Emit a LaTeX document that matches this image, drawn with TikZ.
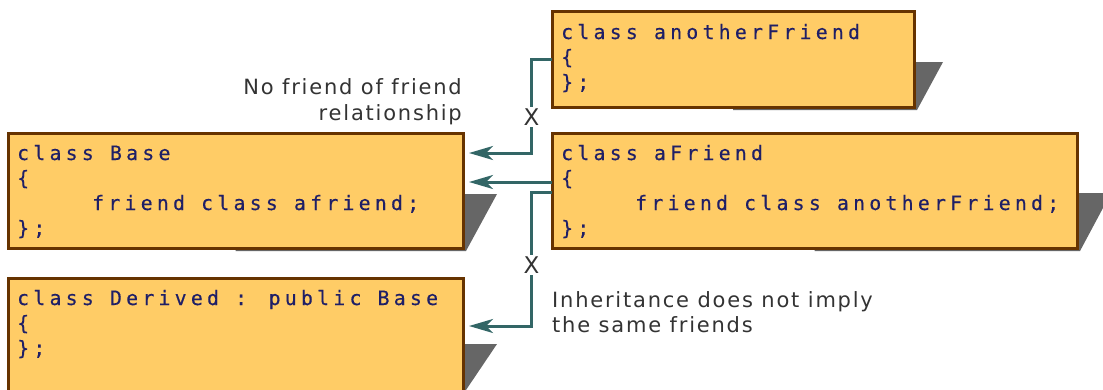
\documentclass[tikz,border=0pt]{standalone}
\usepackage{fontspec}
\usetikzlibrary{calc,arrows.meta,backgrounds}
\newfontfamily\codefont[LetterSpace=21.5,FakeBold=0.4]{DejaVu Sans Mono}
\newfontfamily\notefont[LetterSpace=8.5]{DejaVu Sans}
\newfontfamily\markfont{DejaVu Sans}
\definecolor{boxfill}{HTML}{FFCC66}
\definecolor{boxedge}{HTML}{663300}
\definecolor{shadowgray}{HTML}{666666}
\definecolor{linkteal}{HTML}{336666}
\definecolor{codeblue}{HTML}{1F1F66}
\definecolor{notegray}{HTML}{333333}
\begin{document}
\begin{tikzpicture}[x=1pt,y=-1pt,
  classbox/.style={draw=boxedge, fill=boxfill, line width=3pt, rectangle,
    inner sep=0pt, outer sep=0pt, anchor=north west},
  codetext/.style={anchor=base west, inner sep=0pt, text=codeblue,
    font=\fontsize{19.8pt}{25pt}\codefont},
  notetext/.style={inner sep=0pt, text=notegray,
    font=\fontsize{21pt}{26pt}\notefont},
  xmark/.style={inner sep=1.5pt, text=notegray,
    font=\fontsize{23pt}{26pt}\markfont},
  link/.style={draw=linkteal, line width=3pt},
  linkarrow/.style={link, -{Stealth[length=24pt,width=14pt,inset=7pt]}},
  shade/.style={fill=shadowgray}
]
\path[use as bounding box] (0,0) rectangle (1103,389);
\clip (0,0) rectangle (1103,389);

% class boxes
\node[classbox, minimum width=362pt, minimum height=96pt]  (another) at (552,11) {};
\node[classbox, minimum width=455pt, minimum height=115pt] (base)    at (8,133) {};
\node[classbox, minimum width=525pt, minimum height=115pt] (afr)     at (552,133) {};
\node[classbox, minimum width=455pt, minimum height=130pt] (der)     at (8,278) {};

% drop shadows behind the boxes
\begin{scope}[on background layer]
  \fill[shade] ($(another.south)+(0,3)$) -- ($(another.south east)+(3,3)$)
     -- ($(another.north east)+(29,51)$) -- ($(another.north)+(0,51)$) -- cycle;
  \fill[shade] ($(base.south)+(0,3)$) -- ($(base.south east)+(3,3)$)
     -- ($(base.north east)+(34,61)$) -- ($(base.north)+(0,61)$) -- cycle;
  \fill[shade] ($(afr.south)+(0,3)$) -- ($(afr.south east)+(3,3)$)
     -- ($(afr.north east)+(34,60)$) -- ($(afr.north)+(0,60)$) -- cycle;
  \fill[shade] ($(der.north)+(0,112)$) -- ($(der.north east)+(3,112)$)
     -- ($(der.north east)+(34,66)$) -- ($(der.north)+(0,66)$) -- cycle;
\end{scope}

% code inside the boxes
\node[codetext] (another-1) at ($(another.north west)+(9,28)$) {class anotherFriend};
\node[codetext] (another-2) at ($(another.north west)+(9,53)$) {\{};
\node[codetext] (another-3) at ($(another.north west)+(9,78)$) {\};};

\node[codetext] (base-1) at ($(base.north west)+(9,27)$) {class Base};
\node[codetext] (base-2) at ($(base.north west)+(9,52)$) {\{};
\node[codetext] (base-3) at ($(base.north west)+(84,77)$) {friend class afriend;};
\node[codetext] (base-4) at ($(base.north west)+(9,102)$) {\};};

\node[codetext] (afr-1) at ($(afr.north west)+(9,27)$) {class aFriend};
\node[codetext] (afr-2) at ($(afr.north west)+(9,52)$) {\{};
\node[codetext] (afr-3) at ($(afr.north west)+(83,77)$) {friend class anotherFriend;};
\node[codetext] (afr-4) at ($(afr.north west)+(9,102)$) {\};};

\node[codetext] (der-1) at ($(der.north west)+(9,27)$) {class Derived : public Base};
\node[codetext] (der-2) at ($(der.north west)+(9,52)$) {\{};
\node[codetext] (der-3) at ($(der.north west)+(9,77)$) {\};};

% notes
\node[notetext, anchor=base east] (nf-1) at (462,94)  {No friend of friend};
\node[notetext, anchor=base east] (nf-2) at (462,120) {relationship};
\node[notetext, anchor=base west] (ih-1) at (552,307) {Inheritance does not imply};
\node[notetext, anchor=base west] (ih-2) at (552,332) {the same friends};

% crossed-out relations
\node[xmark] (x1) at (531.5,117) {X};
\node[xmark] (x2) at (531.5,265) {X};

% connectors
\draw[link] (another.west) -| (x1.north);
\draw[linkarrow] (x1.south) |- ($(base.north east)+(6,20)$);
\draw[linkarrow] ($(afr.north west)+(0,49)$) -- ($(base.north east)+(6,49)$);
\draw[link] ($(afr.north west)+(0,59)$) -| (x2.north);
\draw[linkarrow] (x2.south) |- ($(der.north east)+(6,48)$);
\end{tikzpicture}
\end{document}
